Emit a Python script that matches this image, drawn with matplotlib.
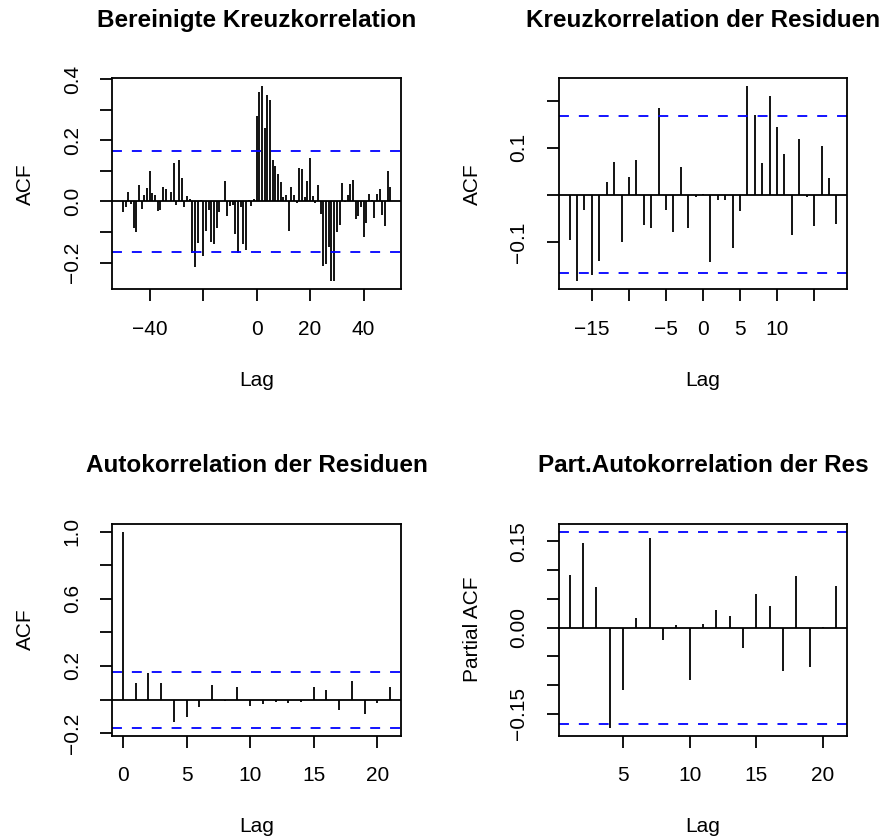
import numpy as np
import matplotlib.pyplot as plt

plt.rcParams['font.family'] = ['Liberation Sans', 'DejaVu Sans']

# =============================================================================
#                       DATEN
# =============================================================================

# Bereinigte Kreuzkorrelation, Lags -50..50
lags_ccf = np.arange(-50, 51)
ccf_bereinigt = [
    -0.034, -0.020, 0.030, -0.007, -0.086, -0.100, 0.052, -0.025, 0.020, 0.043,
    0.100, 0.027, 0.022, -0.030, -0.028, 0.048, 0.040, 0.002, 0.030, 0.127,
    -0.013, 0.134, 0.077, -0.020, 0.016, 0.009, -0.170, -0.215, -0.135, 0.003,
    -0.180, -0.097, -0.028, -0.133, -0.138, -0.087, -0.036, 0.001, 0.067, -0.049,
    -0.015, -0.011, -0.107, -0.170, -0.017, -0.138, -0.158, 0.003, -0.015, 0.007,
    0.280,
    0.357, 0.377, 0.239, 0.348, 0.330, 0.135, 0.117, 0.091, 0.065, 0.015,
    0.020, -0.096, 0.046, 0.020, -0.006, 0.109, 0.107, 0.013, 0.066, 0.143,
    0.017, -0.006, 0.055, -0.041, -0.210, -0.205, -0.150, -0.262, -0.262, -0.100,
    -0.077, 0.059, -0.003, 0.020, 0.058, 0.070, -0.059, -0.047, -0.018, -0.116,
    -0.072, 0.024, 0.003, -0.055, 0.024, 0.040, -0.045, -0.080, 0.099, 0.046,
]
clim_ccf = 0.165

# Kreuzkorrelation der Residuen, Lags -18..18
lags_ccf_res = np.arange(-18, 19)
ccf_residuen = [
    -0.095, -0.184, -0.032, -0.170, -0.140, 0.027, 0.069, -0.100, 0.039, 0.075,
    -0.063, -0.070, 0.184, -0.032, -0.079, 0.060, -0.070, -0.005,
    0.002,
    -0.142, -0.011, -0.011, -0.112, -0.035, 0.231, 0.169, 0.068, 0.210, 0.145,
    0.086, -0.085, 0.119, -0.004, -0.067, 0.104, 0.036, -0.062,
]
clim_ccf_res = 0.167

# Autokorrelation der Residuen, Lags 0..21
lags_acf = np.arange(0, 22)
acf_residuen = [
    1.0, 0.097, 0.161, 0.101, -0.133, -0.101, -0.042, 0.087, -0.010, 0.077,
    -0.040, -0.024, -0.012, -0.022, -0.012, 0.072, 0.056, -0.060, 0.111, -0.083,
    -0.020, 0.072,
]
clim_acf = 0.167

# Partielle Autokorrelation der Residuen, Lags 1..21
lags_pacf = np.arange(1, 22)
pacf_residuen = [
    0.091, 0.147, 0.071, -0.174, -0.109, 0.016, 0.156, -0.022, 0.005, -0.092,
    0.006, 0.030, 0.021, -0.035, 0.058, 0.037, -0.076, 0.089, -0.068, 0.001,
    0.072,
]
clim_pacf = 0.167

# =============================================================================
#                              PLOTEO
# =============================================================================

W, H = 892, 839
fig = plt.figure(figsize=(W / 100, H / 100), dpi=100)


def box(l, t, r, b):
    return [l / W, 1 - b / H, (r - l) / W, (b - t) / H]


ax1 = fig.add_axes(box(112.3, 78.3, 401.0, 289.3))
ax2 = fig.add_axes(box(559.0, 78.3, 847.0, 289.3))
ax3 = fig.add_axes(box(112.3, 523.7, 400.7, 735.5))
ax4 = fig.add_axes(box(559.0, 523.7, 847.0, 735.5))


def acf_panel(ax, lags, vals, clim, title, ylabel):
    vals = np.asarray(vals)
    ax.vlines(lags, 0, vals, color='black', lw=1.3)
    ax.axhline(0, color='black', lw=1.3)
    for c in (clim, -clim):
        ax.axhline(c, color='#0000FF', lw=1.3, linestyle=(0, (5.5, 5.5)))
    # R: 4% Erweiterung
    x0, x1 = lags.min(), lags.max()
    dx = (x1 - x0) * 0.04
    y0, y1 = min(vals.min(), -clim), max(vals.max(), clim)
    dy = (y1 - y0) * 0.04
    ax.set_xlim(x0 - dx, x1 + dx)
    ax.set_ylim(y0 - dy, y1 + dy)
    for s in ax.spines.values():
        s.set_linewidth(1.3)
    ax.tick_params(length=8.5, width=1.3, labelsize=15, pad=13.5)
    ax.set_title(title, fontsize=17.5, fontweight='bold', pad=37)
    ax.text(-0.30, 0.5, ylabel, transform=ax.transAxes, rotation=90,
            ha='center', va='center', fontsize=15)
    ax.text(0.5, -0.43, 'Lag', transform=ax.transAxes,
            ha='center', va='center', fontsize=15)


def labels(vals):
    return [v.replace('-', '\u2212') for v in vals]


acf_panel(ax1, lags_ccf, ccf_bereinigt, clim_ccf,
          'Bereinigte Kreuzkorrelation', 'ACF')
ax1.set_xticks([-40, -20, 0, 20, 40], labels(['-40', '', '0', '20', '40']))
ax1.set_yticks([-0.2, -0.1, 0, 0.1, 0.2, 0.3, 0.4],
               labels(['-0.2', '', '0.0', '', '0.2', '', '0.4']))

acf_panel(ax2, lags_ccf_res, ccf_residuen, clim_ccf_res,
          'Kreuzkorrelation der Residuen', 'ACF')
ax2.set_xticks([-15, -10, -5, 0, 5, 10, 15],
               labels(['-15', '', '-5', '0', '5', '10', '']))
ax2.set_yticks([-0.1, 0, 0.1, 0.2], labels(['-0.1', '', '0.1', '']))

acf_panel(ax3, lags_acf, acf_residuen, clim_acf,
          'Autokorrelation der Residuen', 'ACF')
ax3.set_xticks([0, 5, 10, 15, 20], ['0', '5', '10', '15', '20'])
ax3.set_yticks([-0.2, 0, 0.2, 0.4, 0.6, 0.8, 1.0],
               labels(['-0.2', '', '0.2', '', '0.6', '', '1.0']))

acf_panel(ax4, lags_pacf, pacf_residuen, clim_pacf,
          'Part.Autokorrelation der Res', 'Partial ACF')
ax4.set_xticks([5, 10, 15, 20], ['5', '10', '15', '20'])
ax4.set_yticks([-0.15, -0.10, -0.05, 0, 0.05, 0.10, 0.15],
               labels(['-0.15', '', '', '0.00', '', '', '0.15']))

for ax in (ax1, ax2, ax3, ax4):
    for lab in ax.get_yticklabels():
        lab.set_rotation(90)
        lab.set_va('center')

fig.savefig('out.png', dpi=100)
